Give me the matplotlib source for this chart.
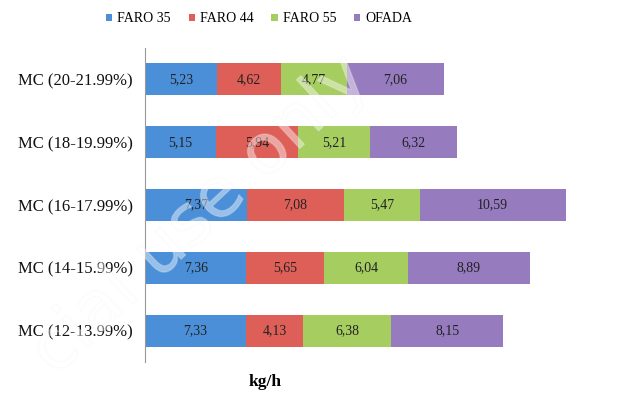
import numpy as np
import matplotlib.pyplot as plt
import matplotlib.patheffects as pe

plt.rcParams['font.family'] = ['Liberation Serif', 'DejaVu Serif']

categories = ['MC (12-13.99%)', 'MC (14-15.99%)', 'MC (16-17.99%)',
              'MC (18-19.99%)', 'MC (20-21.99%)']
series = ['FARO 35', 'FARO 44', 'FARO 55', 'OFADA']
faro35 = [7.33, 7.36, 7.37, 5.15, 5.23]
faro44 = [4.13, 5.65, 7.08, 5.94, 4.62]
faro55 = [6.38, 6.04, 5.47, 5.21, 4.77]
ofada = [8.15, 8.89, 10.59, 6.32, 7.06]
colors = ['#4a8fd8', '#de5f58', '#a6cd5f', '#977bbf']

fig = plt.figure(figsize=(6.34, 3.97), dpi=100)
ax = fig.add_axes([145/634, 1 - 362/397, 455/634, 314/397])

y = np.arange(len(categories))
left = np.zeros(len(categories))
for name, vals, c in zip(series, [faro35, faro44, faro55, ofada], colors):
    vals = np.array(vals)
    ax.barh(y, vals, left=left, height=0.51, color=c, label=name)
    for yi, l, v in zip(y, left, vals):
        ax.text(l + v/2, yi, ('%.2f' % v).replace('.', ','),
                ha='center', va='center', fontsize=10, color='#222222')
    left += vals

ax.set_ylim(-0.5, 4.5)
ax.set_xlim(0, 33)
ax.set_yticks(y)
ax.set_yticklabels(categories, fontsize=12, color='#111111')
ax.tick_params(axis='y', length=0, pad=9)
ax.set_xticks([])
for s in ['top', 'right', 'bottom']:
    ax.spines[s].set_visible(False)
ax.spines['left'].set_color('#999999')

fig.text(265/634, 1 - 382/397, 'kg/h', ha='center', va='center',
         fontsize=12.5, fontweight='bold')

fig.legend(loc='center', bbox_to_anchor=(259/634, 1 - 19/397), ncol=4,
           frameon=False, fontsize=10, handlelength=0.45, handleheight=0.45,
           handletextpad=0.35, columnspacing=1.3)

# faint watermark (only part of it is visible in the picture)
fig.text(200/634, 1 - 215/397, 'cial use only', rotation=43,
         ha='center', va='center', fontsize=50, color='white', alpha=0.25,
         family='DejaVu Sans', zorder=5,
         path_effects=[pe.withStroke(linewidth=1, foreground='#f2f2f2')])

fig.savefig('out.png', dpi=100)
